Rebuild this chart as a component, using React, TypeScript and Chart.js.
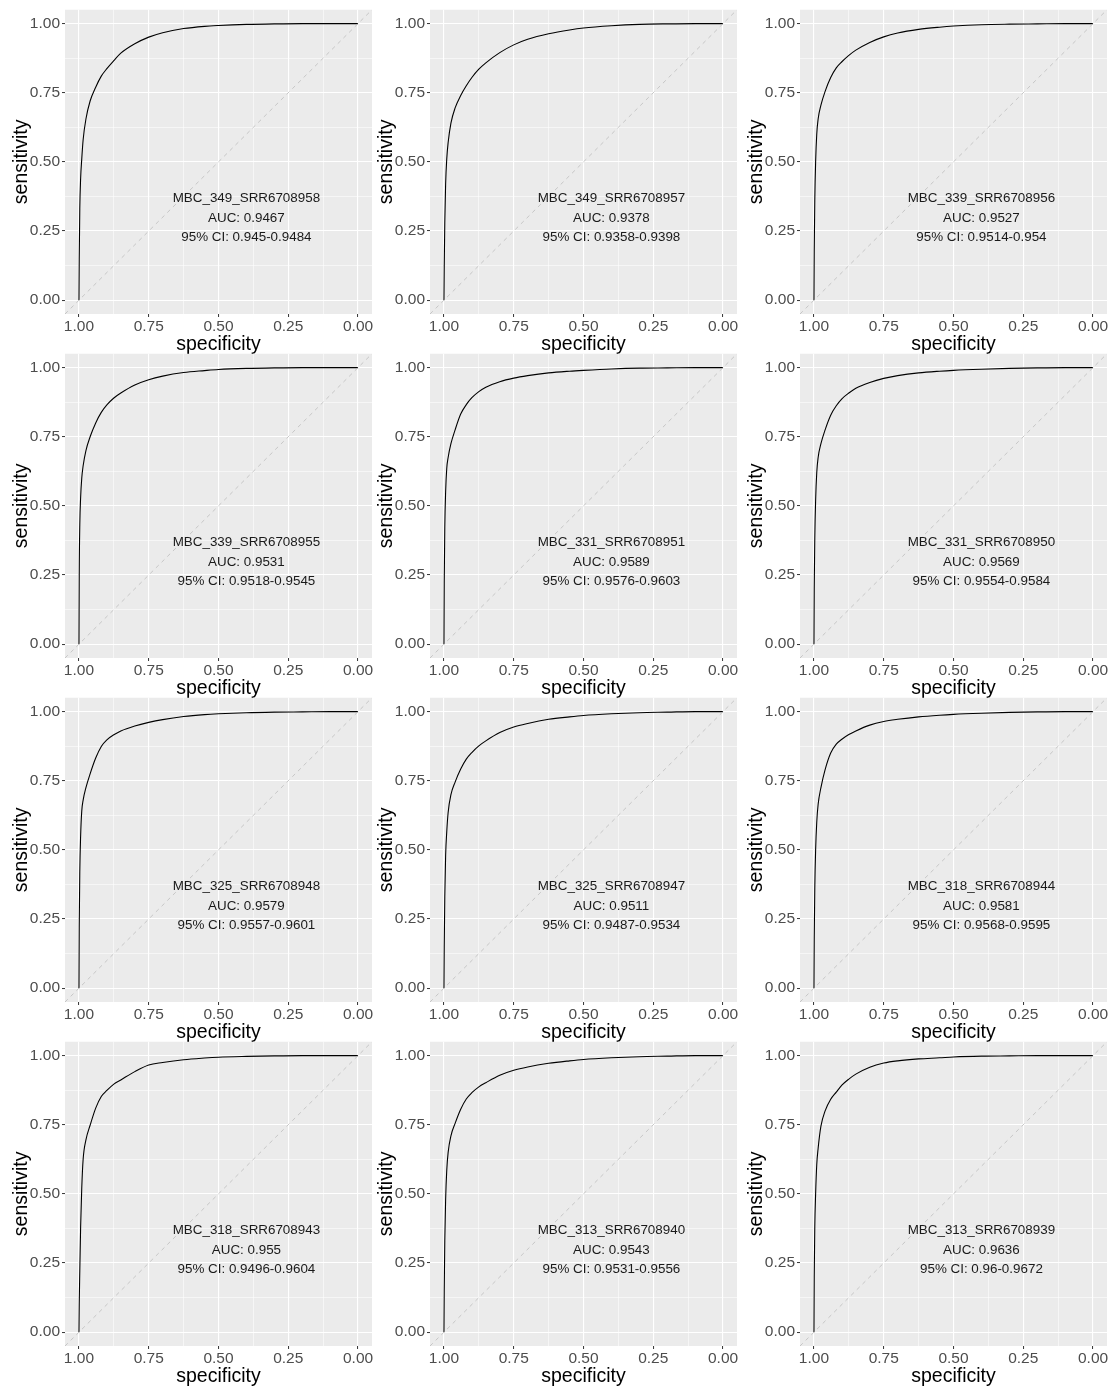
import React, { useEffect, useRef } from 'react';
import { Chart, registerables } from 'chart.js';

Chart.register(...registerables);

// ---------- data ----------
const panelNames = [
  'MBC_349_SRR6708958', 'MBC_349_SRR6708957', 'MBC_339_SRR6708956',
  'MBC_339_SRR6708955', 'MBC_331_SRR6708951', 'MBC_331_SRR6708950',
  'MBC_325_SRR6708948', 'MBC_325_SRR6708947', 'MBC_318_SRR6708944',
  'MBC_318_SRR6708943', 'MBC_313_SRR6708940', 'MBC_313_SRR6708939',
];
const aucValues = [
  '0.9467', '0.9378', '0.9527',
  '0.9531', '0.9589', '0.9569',
  '0.9579', '0.9511', '0.9581',
  '0.955', '0.9543', '0.9636',
];
const ciValues = [
  '0.945-0.9484', '0.9358-0.9398', '0.9514-0.954',
  '0.9518-0.9545', '0.9576-0.9603', '0.9554-0.9584',
  '0.9557-0.9601', '0.9487-0.9534', '0.9568-0.9595',
  '0.9496-0.9604', '0.9531-0.9556', '0.96-0.9672',
];

// specificity values at which sensitivity was read (shared by all panels)
const specGrid = [1, 0.999, 0.997, 0.994, 0.99, 0.985, 0.975, 0.96, 0.94, 0.92, 0.9, 0.875, 0.85, 0.8, 0.75, 0.7, 0.625, 0.55, 0.5, 0.4, 0.3, 0.2, 0.1, 0];

const sens1 = [0, 0.15, 0.33, 0.44, 0.51, 0.58, 0.655, 0.72, 0.77, 0.81, 0.837, 0.866, 0.893, 0.927, 0.951, 0.967, 0.982, 0.99, 0.993, 0.997, 0.999, 1, 1, 1];
const sens2 = [0, 0.12, 0.28, 0.42, 0.51, 0.57, 0.64, 0.695, 0.74, 0.775, 0.805, 0.835, 0.858, 0.895, 0.923, 0.943, 0.963, 0.977, 0.984, 0.992, 0.997, 0.999, 1, 1];
const sens3 = [0, 0.18, 0.36, 0.5, 0.6, 0.655, 0.705, 0.755, 0.805, 0.84, 0.862, 0.885, 0.904, 0.932, 0.952, 0.966, 0.979, 0.987, 0.991, 0.996, 0.998, 0.999, 1, 1];
const sens4 = [0, 0.25, 0.43, 0.53, 0.6, 0.645, 0.7, 0.75, 0.8, 0.838, 0.865, 0.89, 0.908, 0.937, 0.956, 0.969, 0.982, 0.989, 0.993, 0.997, 0.999, 1, 1, 1];
const sens5 = [0, 0.22, 0.42, 0.55, 0.635, 0.675, 0.725, 0.775, 0.832, 0.866, 0.891, 0.913, 0.929, 0.949, 0.962, 0.971, 0.981, 0.987, 0.99, 0.995, 0.998, 0.999, 1, 1];
const sens6 = [0, 0.2, 0.38, 0.52, 0.62, 0.675, 0.725, 0.775, 0.828, 0.862, 0.887, 0.908, 0.925, 0.946, 0.961, 0.971, 0.981, 0.987, 0.99, 0.994, 0.997, 0.999, 1, 1];
const sens7 = [0, 0.22, 0.42, 0.55, 0.64, 0.68, 0.725, 0.775, 0.832, 0.874, 0.898, 0.916, 0.93, 0.948, 0.961, 0.971, 0.982, 0.989, 0.992, 0.996, 0.998, 0.999, 1, 1];
const sens8 = [0, 0.15, 0.33, 0.48, 0.565, 0.635, 0.7, 0.745, 0.792, 0.828, 0.852, 0.876, 0.894, 0.924, 0.944, 0.957, 0.972, 0.981, 0.986, 0.992, 0.996, 0.998, 1, 1];
const sens9 = [0, 0.18, 0.36, 0.5, 0.6, 0.665, 0.725, 0.79, 0.85, 0.882, 0.9, 0.917, 0.93, 0.951, 0.964, 0.972, 0.981, 0.987, 0.99, 0.994, 0.997, 0.999, 1, 1];
const sens10 = [0, 0.1, 0.22, 0.38, 0.52, 0.625, 0.695, 0.748, 0.81, 0.852, 0.874, 0.897, 0.912, 0.942, 0.966, 0.975, 0.985, 0.991, 0.994, 0.997, 0.999, 1, 1, 1];
const sens11 = [0, 0.15, 0.33, 0.48, 0.585, 0.65, 0.71, 0.755, 0.806, 0.843, 0.866, 0.887, 0.902, 0.929, 0.947, 0.959, 0.972, 0.981, 0.986, 0.992, 0.996, 0.998, 1, 1];
const sens12 = [0, 0.2, 0.38, 0.5, 0.605, 0.665, 0.745, 0.8, 0.842, 0.868, 0.893, 0.915, 0.933, 0.958, 0.973, 0.981, 0.988, 0.992, 0.995, 0.998, 0.999, 1, 1, 1];

const sensList = [sens1, sens2, sens3, sens4, sens5, sens6, sens7, sens8, sens9, sens10, sens11, sens12];

// reference diagonal (chance line)
const diagSpec = [1.05, -0.05];
const diagSens = [-0.05, 1.05];

const gridTicks = [0, 0.125, 0.25, 0.375, 0.5, 0.625, 0.75, 0.875, 1];
const majorTicks = [0, 0.25, 0.5, 0.75, 1];

// ---------- layout / style ----------
const FONT = '"Liberation Sans", Arial, Helvetica, sans-serif';
const COL_LEFT = [0, 365, 735];
const ROW_TOP = [0, 344, 688, 1032];
const CW = 375;
const CH = 357;

const isMajor = (v: number) => majorTicks.some((m) => Math.abs(m - v) < 1e-9);

const panelDecor = {
  id: 'panelDecor',
  beforeDraw(chart: any) {
    const { ctx, chartArea } = chart;
    ctx.save();
    ctx.fillStyle = '#EBEBEB';
    ctx.fillRect(chartArea.left, chartArea.top, chartArea.right - chartArea.left, chartArea.bottom - chartArea.top);
    ctx.restore();
  },
  afterDatasetsDraw(chart: any, _args: any, opts: any) {
    const { ctx, scales } = chart;
    const lines: string[] = opts.lines || [];
    const x = scales.x.getPixelForValue(0.4);
    const yc = scales.y.getPixelForValue(0.3) + 1;
    ctx.save();
    ctx.font = `13.4px ${FONT}`;
    ctx.fillStyle = '#1a1a1a';
    ctx.textAlign = 'center';
    ctx.textBaseline = 'middle';
    lines.forEach((t, i) => {
      ctx.fillText(t, x, yc + (i - 1) * 19.5);
    });
    ctx.restore();
  },
};

function RocPanel({ idx }: { idx: number }) {
  const ref = useRef<HTMLCanvasElement>(null);
  const left = COL_LEFT[idx % 3];
  const top = ROW_TOP[Math.floor(idx / 3)];

  useEffect(() => {
    if (!ref.current) return;
    const sens = sensList[idx];
    const tickFont = { family: FONT, size: 15.5, lineHeight: 1 };
    const titleFont = { family: FONT, size: 19.5, lineHeight: 1.2 };
    const gridCommon = {
      color: '#FFFFFF',
      lineWidth: (c: any) => (c.tick && isMajor(c.tick.value) ? 1.1 : 0.55),
      tickLength: 3,
      tickWidth: 1,
      tickColor: (c: any) => (c.tick && isMajor(c.tick.value) ? '#333333' : 'rgba(0,0,0,0)'),
      drawTicks: true,
    };
    const chart = new Chart(ref.current, {
      type: 'scatter',
      data: {
        datasets: [
          {
            data: diagSpec.map((s, i) => ({ x: s, y: diagSens[i] })),
            showLine: true,
            borderColor: '#C2C2C2',
            borderWidth: 0.9,
            borderDash: [4, 4],
            pointRadius: 0,
          },
          {
            data: specGrid.map((s, i) => ({ x: s, y: sens[i] })),
            showLine: true,
            borderColor: '#000000',
            borderWidth: 1.1,
            pointRadius: 0,
            cubicInterpolationMode: 'monotone',
          },
        ],
      },
      options: {
        animation: false,
        responsive: false,
        layout: { padding: { top: 7, right: 3, bottom: 1, left: 0 } },
        plugins: {
          legend: { display: false },
          tooltip: { enabled: false },
          panelDecor: {
            lines: [panelNames[idx], `AUC: ${aucValues[idx]}`, `95% CI: ${ciValues[idx]}`],
          },
        } as any,
        scales: {
          x: {
            type: 'linear',
            reverse: true,
            min: -0.05,
            max: 1.05,
            afterBuildTicks: (s: any) => {
              s.ticks = gridTicks.map((v) => ({ value: v }));
            },
            afterFit: (s: any) => {
              s.height = 42;
            },
            grid: gridCommon,
            border: { display: false },
            ticks: {
              autoSkip: false,
              maxRotation: 0,
              padding: 2,
              color: '#4D4D4D',
              font: tickFont,
              callback: (v: any) => (isMajor(Number(v)) ? Number(v).toFixed(2) : ''),
            },
            title: {
              display: true,
              text: 'specificity',
              color: '#000000',
              font: titleFont,
              padding: { top: 0, bottom: 0 },
            },
          },
          y: {
            type: 'linear',
            min: -0.05,
            max: 1.05,
            afterBuildTicks: (s: any) => {
              s.ticks = gridTicks.map((v) => ({ value: v }));
            },
            afterFit: (s: any) => {
              s.width = 65;
            },
            grid: gridCommon,
            border: { display: false },
            ticks: {
              autoSkip: false,
              padding: 2,
              color: '#4D4D4D',
              font: tickFont,
              callback: (v: any) => (isMajor(Number(v)) ? Number(v).toFixed(2) : ''),
            },
            title: {
              display: true,
              text: 'sensitivity',
              color: '#000000',
              font: titleFont,
              padding: { top: 10, bottom: 0 },
            },
          },
        },
      } as any,
      plugins: [panelDecor],
    });
    return () => chart.destroy();
  }, [idx]);

  return (
    <div style={{ position: 'absolute', left, top, width: CW, height: CH }}>
      <canvas ref={ref} width={CW} height={CH} style={{ width: CW, height: CH, display: 'block' }} />
    </div>
  );
}

export default function App() {
  return (
    <div
      style={{
        position: 'absolute',
        left: 0,
        top: 0,
        width: 1112,
        height: 1389,
        overflow: 'hidden',
        background: '#FFFFFF',
      }}
    >
      {panelNames.map((_, i) => (
        <RocPanel key={i} idx={i} />
      ))}
    </div>
  );
}
